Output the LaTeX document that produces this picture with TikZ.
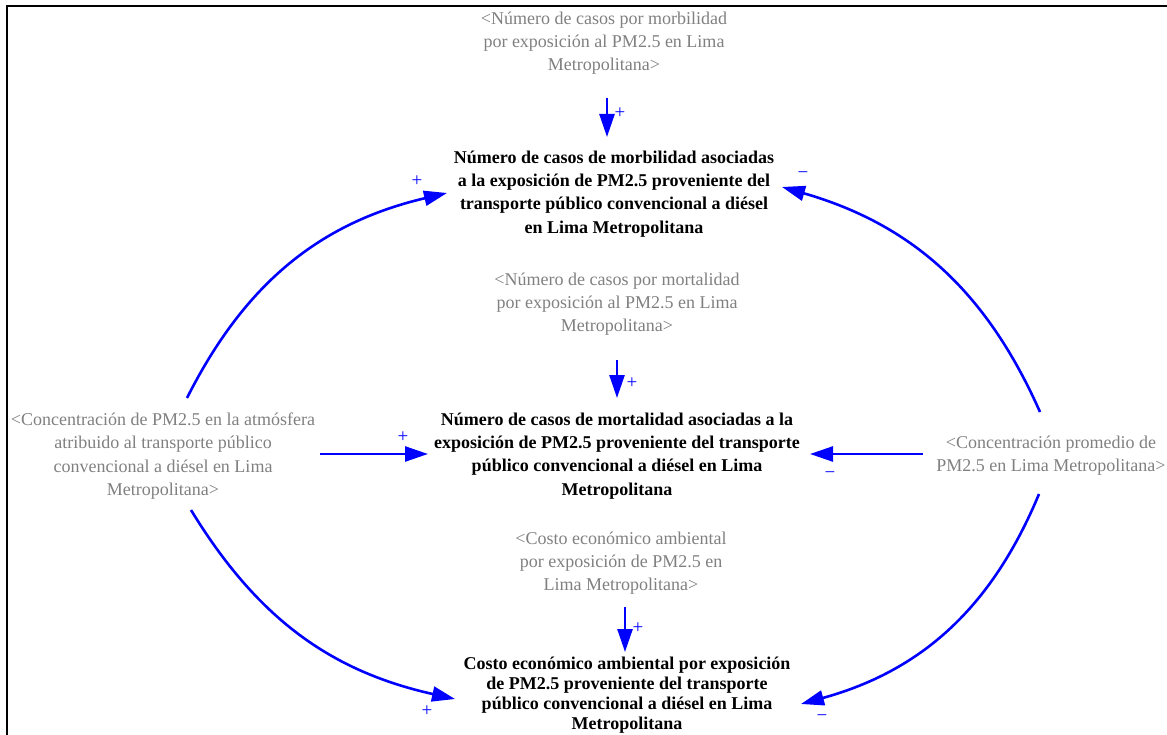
\documentclass[tikz,border=0pt]{standalone}
\usepackage{fontspec}
\setmainfont{Liberation Serif}
\usetikzlibrary{arrows.meta,calc}
\definecolor{vgray}{RGB}{128,128,128}
\definecolor{vblue}{RGB}{0,0,255}
\tikzset{
  shadowvar/.style={text=vgray, align=center, font=\fontsize{18}{23.3}\selectfont, inner sep=0pt},
  mainvar/.style={text=black, align=center, font=\fontsize{18}{23.3}\selectfont\bfseries, inner sep=0pt},
  link/.style={draw=vblue, line width=2.6pt, -{Triangle[length=23pt,width=15pt]}},
  pol/.style={text=vblue, font=\fontsize{19}{19}\selectfont, inner sep=0pt},
  frameline/.style={draw=black, line width=2pt}
}
\begin{document}
\begin{tikzpicture}[x=1pt,y=1pt]
\useasboundingbox (0,0) rectangle (1167,-735);
\draw[frameline] (7,-735) -- (7,-6.5) -- (1167,-6.5);

\node[shadowvar] (g1) at (604,-43) {<Número de casos por morbilidad\\por exposición al PM2.5 en Lima\\Metropolitana>};
\node[mainvar] (m1) at (614,-194) {Número de casos de morbilidad asociadas\\a la exposición de PM2.5 proveniente del\\transporte público convencional a diésel\\en Lima Metropolitana};
\node[shadowvar] (g2) at (617,-304) {<Número de casos por mortalidad\\por exposición al PM2.5 en Lima\\Metropolitana>};
\node[mainvar] (m2) at (617,-456) {Número de casos de mortalidad asociadas a la\\exposición de PM2.5 proveniente del transporte\\público convencional a diésel en Lima\\Metropolitana};
\node[shadowvar] (g3) at (163,-456) {<Concentración de PM2.5 en la atmósfera\\atribuido al transporte público\\convencional a diésel en Lima\\Metropolitana>};
\node[shadowvar] (g4) at (1051,-456) {<Concentración promedio de\\PM2.5 en Lima Metropolitana>};
\node[shadowvar] (g5) at (621,-563) {<Costo económico ambiental\\por exposición de PM2.5 en\\Lima Metropolitana>};
\node[mainvar, font=\fontsize{18}{20}\selectfont\bfseries] (m3) at (627,-695) {Costo económico ambiental por exposición\\de PM2.5 proveniente del transporte\\público convencional a diésel en Lima\\Metropolitana};

\draw[link] ($(g1.center)+(3,-55)$) -- ($(m1.center)+(-7,57)$);
\draw[link] ($(g2.center)+(0,-56)$) -- ($(m2.center)+(0,58)$);
\draw[link] ($(g5.center)+(4,-44)$) -- ($(m3.center)+(-2,43)$);
\draw[link] ($(g3.center)+(157,2)$) -- ($(m2.center)+(-189,2)$);
\draw[link] ($(g4.center)+(-128,2)$) -- ($(m2.center)+(193,2)$);
\draw[link] ($(g3.center)+(24,58)$) to[bend left=25] ($(m1.center)+(-167,1)$);
\draw[link] ($(g4.center)+(-11,44)$) to[bend right=25] ($(m1.center)+(168,7)$);
\draw[link] ($(g3.center)+(28,-54)$) to[bend right=23] ($(m3.center)+(-172,-4)$);
\draw[link] ($(g4.center)+(-12,-38)$) to[bend left=26] ($(m3.center)+(174,-9)$);

\node[pol] (p1) at (620,-113) {+};
\node[pol] (p2) at (632,-383) {+};
\node[pol] (p3) at (638,-628) {+};
\node[pol] (p4) at (403,-437) {+};
\node[pol] (p5) at (830,-475) {−};
\node[pol] (p6) at (417,-181) {+};
\node[pol] (p7) at (803,-175) {−};
\node[pol] (p8) at (427,-711) {+};
\node[pol] (p9) at (822,-718) {−};
\end{tikzpicture}
\end{document}
